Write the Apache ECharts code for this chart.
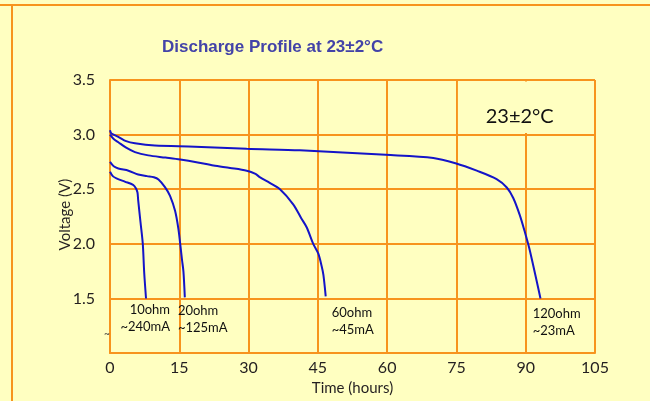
<!DOCTYPE html>
<html><head><meta charset="utf-8">
<script src="https://cdn.jsdelivr.net/npm/echarts@6/dist/echarts.min.js"></script>
<style>html,body{margin:0;padding:0;background:#FFFFC1;} #c{width:650px;height:401px;}</style>
</head><body><div id="c"></div>
<script>
// ---- data ----
const xTickLabels = ['0','15','30','45','60','75','90','105'];
const yTickLabels = ['', '1.5', '2.0', '2.5', '3.0', '3.5'];

const t10 = [0, 0.6, 1.4, 3.2, 5.0, 5.6, 5.95, 6.1, 6.6, 7.1, 7.4, 7.8];
const v10 = [2.66, 2.62, 2.60, 2.57, 2.54, 2.51, 2.47, 2.40, 2.20, 2.00, 1.74, 1.50];

const t20 = [0, 0.8, 1.8, 4.0, 6.1, 8.0, 9.5, 10.5, 11.9, 13.0, 14.1, 14.8, 15.2, 15.6, 15.9, 16.2];
const v20 = [2.75, 2.71, 2.69, 2.67, 2.635, 2.62, 2.61, 2.59, 2.52, 2.44, 2.30, 2.14, 2.00, 1.85, 1.746, 1.51];

const t60 = [0, 0.8, 1.8, 3.5, 5.4, 8.3, 12.0, 15.2, 19.0, 22.4, 26.0, 29.6, 31.5, 32.5, 34.5, 36.8, 39.7, 41.4, 42.6, 44.0, 45.1, 45.8, 46.2, 46.7];
const v60 = [3.00, 2.96, 2.93, 2.88, 2.84, 2.81, 2.79, 2.772, 2.745, 2.717, 2.695, 2.67, 2.64, 2.608, 2.56, 2.50, 2.36, 2.235, 2.15, 2.00, 1.91, 1.80, 1.716, 1.52];

const t120 = [0, 0.3, 1.8, 3.5, 5.4, 9.7, 18.4, 29.6, 41.1, 59.7, 70.0, 74.8, 79.4, 83.7, 85.9, 87.3, 88.7, 89.8, 90.8, 93.2];
const v120 = [3.04, 3.01, 2.98, 2.94, 2.92, 2.90, 2.89, 2.87, 2.856, 2.815, 2.787, 2.738, 2.67, 2.593, 2.516, 2.42, 2.265, 2.11, 1.955, 1.50];

const seriesNames = ['10ohm', '20ohm', '60ohm', '120ohm'];
const loadLines = ['~240mA', '~125mA', '~45mA', '~23mA'];
// annotation anchor (top of text), in data units (hours, volts)
const noteX = [13.0, 14.7, 48.0, 91.5];
const noteY = [1.477, 1.464, 1.45, 1.44];
const noteAlign = ['right', 'left', 'left', 'left'];

const titleText = 'Discharge Profile at 23±2°C';
const tempText = '23±2°C';
const tempAt = [88.7, 3.165];

// ---- chart ----
const orange = '#F7941E';
const bg = '#FFFFC1';
const blue = '#1414C8';
const txt = '#231F20';
const chart = echarts.init(document.getElementById('c'), null, {renderer: 'canvas'});
const pair = (ts, vs) => ts.map((t, i) => [t, vs[i]]);
const curves = [pair(t10, v10), pair(t20, v20), pair(t60, v60), pair(t120, v120)];

chart.setOption({
  backgroundColor: bg,
  animation: false,
  title: {
    text: titleText, left: 157, top: 34,
    textStyle: {color: '#4343A8', fontSize: 17, fontWeight: 'bold', fontFamily: "'Liberation Sans', Arial"}
  },
  grid: {left: 110, right: 55, top: 80, bottom: 46},
  xAxis: {
    type: 'value', min: 0, max: 105, interval: 15,
    name: 'Time (hours)', nameLocation: 'middle', nameGap: 25,
    nameTextStyle: {color: txt, fontSize: 15, fontFamily: 'Lato'},
    axisLine: {lineStyle: {color: orange, width: 2}},
    axisTick: {show: false},
    axisLabel: {margin: 7, color: txt, fontSize: 16, fontFamily: 'Lato',
      formatter: (v) => xTickLabels[Math.round(v / 15)]},
    splitLine: {lineStyle: {color: orange, width: 2}}
  },
  yAxis: {
    type: 'value', min: 1, max: 3.5, interval: 0.5,
    axisLine: {show: true, lineStyle: {color: orange, width: 2}},
    axisTick: {show: false},
    axisLabel: {margin: 15, color: txt, fontSize: 16, fontFamily: 'Lato', padding: [6, 0, 0, 0],
      formatter: (v) => yTickLabels[Math.round((v - 1) / 0.5)]},
    splitLine: {lineStyle: {color: orange, width: 2}}
  },
  series: curves.map((d, i) => ({
    name: seriesNames[i], type: 'line', data: d, smooth: 0.3, symbol: 'none',
    lineStyle: {color: blue, width: 2}, z: 5
  }))
});

// decorations computed from the axes
const px = (x, y) => chart.convertToPixel({gridIndex: 0}, [x, y]);
const boxA = px(75, 3.5), boxB = px(105, 3.0), tempPx = px(tempAt[0], tempAt[1]);
const axTop = px(0, 3.5), axBot = px(0, 1.0);
const g = [
  {type: 'line', shape: {x1: 0, y1: 5, x2: 650, y2: 5}, style: {stroke: orange, lineWidth: 2}},
  {type: 'line', shape: {x1: 12, y1: 5, x2: 12, y2: 401}, style: {stroke: orange, lineWidth: 2}},
  {type: 'rect', shape: {x: boxA[0] + 1.5, y: boxA[1] + 1.5, width: boxB[0] - boxA[0] - 3, height: boxB[1] - boxA[1] - 3}, style: {fill: bg}, z: 3},
  {type: 'text', x: tempPx[0], y: tempPx[1], z: 4,
    style: {text: tempText, fill: '#111', font: '20px Lato', textAlign: 'center', textVerticalAlign: 'middle'}},
  {type: 'text', x: 65, y: (axTop[1] + axBot[1]) / 2 - 2, rotation: Math.PI / 2, z: 4,
    style: {text: 'Voltage (V)', fill: txt, font: '15px Lato', textAlign: 'center', textVerticalAlign: 'middle'}}
];
seriesNames.forEach((n, i) => {
  const q = px(noteX[i], noteY[i]);
  g.push({type: 'text', x: q[0], y: q[1], z: 6,
    style: {text: n + '\n' + loadLines[i], fill: '#111', font: '13px Lato', textAlign: noteAlign[i], textVerticalAlign: 'top', lineHeight: 17}});
});
const tq = px(0, 1.18);
g.push({type: 'text', x: tq[0] - 3, y: tq[1], z: 6, style: {text: '~', fill: '#333', font: '10px Lato', textAlign: 'center', textVerticalAlign: 'middle'}});
chart.setOption({graphic: g});
</script></body></html>
